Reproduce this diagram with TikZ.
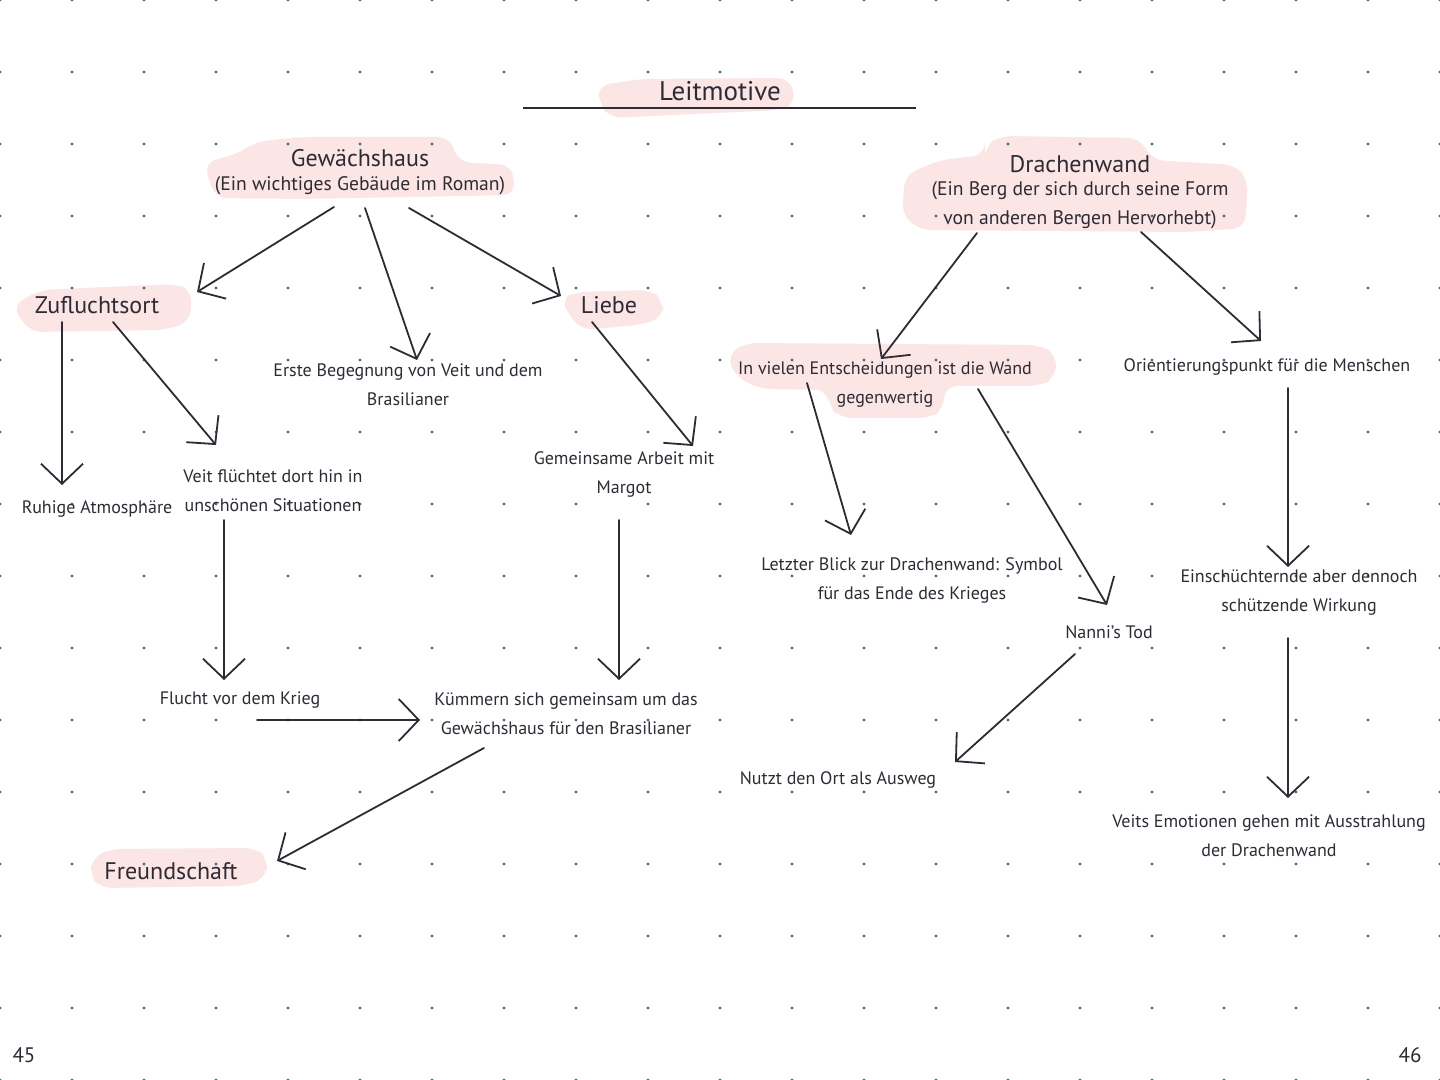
\documentclass[tikz,border=0pt]{standalone}
\usepackage{fontspec}
\setmainfont{PT Sans}
\usetikzlibrary{arrows.meta,calc}
\definecolor{ink}{HTML}{2E2B35}
\definecolor{blush}{HTML}{FBE5E5}
\definecolor{dotc}{HTML}{466E6C}
\newcommand{\fsz}[2]{\fontsize{#1}{#2}\selectfont}
\begin{document}
\begin{tikzpicture}[x=0.5pt,y=-0.5pt,
  txt/.style={text=ink, align=center, inner sep=0pt, font=\fsz{9}{14.5}},
  head/.style={text=ink, inner sep=0pt, font=\fsz{12}{14}},
  subt/.style={text=ink, align=center, inner sep=0pt, font=\fsz{9.8}{14.5}},
  arr/.style={draw=ink, line width=0.9pt, line cap=round, line join=round,
    -{Straight Barb[length=10pt,width=21pt,line width=0.9pt]}},
  blob/.style={fill=blush, draw=none, rounded corners=6pt}]
\useasboundingbox (0,0) rectangle (1440,1080);
\fill[white] (0,0) rectangle (1440,1080);

% pink highlights
\fill[blob] (597,86) -- (640,79) -- (790,78) -- (796,104) -- (780,110) -- (610,118) -- (600,104) -- cycle;
\fill[blob] (255,142) -- (300,137) -- (450,137) -- (458,162) -- (512,165) -- (515,195) -- (300,199) -- (215,198) -- (204,163) -- (240,153) -- cycle;
\fill[blob] (12,306) -- (40,290) -- (175,284) -- (192,290) -- (190,322) -- (165,330) -- (30,332) -- cycle;
\fill[blob] (560,300) -- (575,292) -- (650,290) -- (663,300) -- (663,318) -- (640,325) -- (580,330) -- cycle;
\fill[blob] (92,858) -- (110,849) -- (255,848) -- (268,858) -- (266,878) -- (245,886) -- (100,888) -- (90,875) -- cycle;
\fill[blob] (985,146) -- (1000,136) -- (1140,138) -- (1152,160) -- (1235,165) -- (1248,180) -- (1245,228) -- (1190,232) -- (920,230) -- (902,215) -- (905,175) -- (940,160) -- (985,155) -- cycle;
\fill[blob] (727,355) -- (745,343) -- (1040,345) -- (1057,355) -- (1055,378) -- (1040,386) -- (945,386) -- (943,410) -- (930,418) -- (840,418) -- (828,405) -- (828,390) -- (760,389) -- (735,376) -- cycle;

% dot grid
\foreach \gx in {0,72,...,1440}
  \foreach \gy in {0,72,...,1080}
    \fill[dotc] (\gx,\gy) circle[radius=1.7];

% nodes
\node[text=ink, inner sep=0pt, font=\fsz{13.5}{16}] (title) at (720,91) {Leitmotive};
\node[head] (gw) at (360,158) {Gewächshaus};
\node[subt] (gwsub) at (360,186) {(Ein wichtiges Gebäude im Roman)};
\node[head] (zuf) at (97,305) {Zufluchtsort};
\node[head] (liebe) at (609,305) {Liebe};
\node[txt] (erste) at (408,385) {Erste Begegnung von Veit und dem\\Brasilianer};
\node[txt] (ruhig) at (97,509) {Ruhige Atmosphäre};
\node[txt] (veit) at (273,490.5) {Veit flüchtet dort hin in\\unschönen Situationen};
\node[txt] (gem) at (624,474.5) {Gemeinsame Arbeit mit\\Margot};
\node[txt] (flucht) at (240,700) {Flucht vor dem Krieg};
\node[txt] (kum) at (566,714) {Kümmern sich gemeinsam um das\\Gewächshaus für den Brasilianer};
\node[head] (freund) at (171,871) {Freundschaft};
\node[head] (dw) at (1080,164) {Drachenwand};
\node[subt] (dwsub) at (1080,205) {(Ein Berg der sich durch seine Form\\von anderen Bergen Hervorhebt)};
\node[txt] (inv) at (885,385) {In vielen Entscheidungen ist die Wand\\gegenwertig};
\node[txt] (ori) at (1267,367) {Orientierungspunkt für die Menschen};
\node[txt] (letzt) at (912,580.5) {Letzter Blick zur Drachenwand: Symbol\\für das Ende des Krieges};
\node[txt] (nanni) at (1109,632) {Nanni’s Tod};
\node[txt] (nutzt) at (838,780) {Nutzt den Ort als Ausweg};
\node[txt] (ein) at (1299,593) {Einschüchternde aber dennoch\\schützende Wirkung};
\node[txt] (veits) at (1269,836) {Veits Emotionen gehen mit Ausstrahlung\\der Drachenwand};
\node[text=ink, inner sep=0pt, font=\fsz{10.5}{12}] (p45) at (24,1055) {45};
\node[text=ink, inner sep=0pt, font=\fsz{10.5}{12}] (p46) at (1410,1055) {46};

% title underline
\draw[ink, line width=1pt] ([shift={(-197,17)}]title.center) -- ([shift={(196,17)}]title.center);

% connectors
\draw[arr] ([shift={(-26,21)}]gwsub.center) -- ([shift={(100,-13)}]zuf.center);
\draw[arr] ([shift={(5,22)}]gwsub.center) -- ([shift={(9,-25)}]erste.center);
\draw[arr] ([shift={(49,22)}]gwsub.center) -- ([shift={(-48,-9)}]liebe.center);
\draw[arr] ([shift={(-35,17)}]zuf.center) -- ([shift={(-35,-24)}]ruhig.center);
\draw[arr] ([shift={(16,17)}]zuf.center) -- ([shift={(-57,-45.5)}]veit.center);
\draw[arr] ([shift={(-17,17)}]liebe.center) -- ([shift={(69,-28.5)}]gem.center);
\draw[arr] ([shift={(-49,29.5)}]veit.center) -- ([shift={(-16,-20)}]flucht.center);
\draw[arr] ([shift={(-5,45.5)}]gem.center) -- ([shift={(53,-34)}]kum.center);
\draw[arr] ([shift={(17,20)}]flucht.center) -- ([shift={(-146,6)}]kum.center);
\draw[arr] ([shift={(-82,34)}]kum.center) -- ([shift={(106,-10)}]freund.center);
\draw[arr] ([shift={(-103,28)}]dwsub.center) -- ([shift={(-4,-26)}]inv.center);
\draw[arr] ([shift={(61,27)}]dwsub.center) -- ([shift={(-6,-26)}]ori.center);
\draw[arr] ([shift={(-78,-2)}]inv.center) -- ([shift={(-61,-45.5)}]letzt.center);
\draw[arr] ([shift={(93,4)}]inv.center) -- ([shift={(-2,-27)}]nanni.center);
\draw[arr] ([shift={(-34,22)}]nanni.center) -- ([shift={(117,-18)}]nutzt.center);
\draw[arr] ([shift={(21,21)}]ori.center) -- ([shift={(-11,-26)}]ein.center);
\draw[arr] ([shift={(-11,45)}]ein.center) -- ([shift={(19,-38)}]veits.center);
\end{tikzpicture}
\end{document}
